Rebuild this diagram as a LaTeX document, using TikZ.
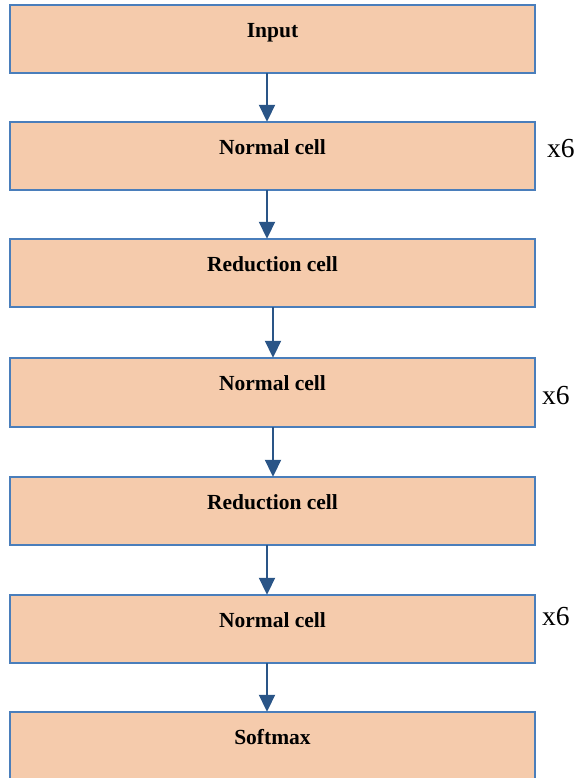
\documentclass[tikz,border=0pt]{standalone}
\usepackage{fontspec}
\setmainfont{Liberation Serif}
\usetikzlibrary{arrows.meta}
\definecolor{cellfill}{HTML}{F5CBAC}
\definecolor{cellline}{HTML}{4A7EBB}
\definecolor{arrowcol}{HTML}{2A5587}
\tikzset{
  cell/.style={draw=cellline, line width=2.6pt, fill=cellfill, inner sep=0pt},
  celltext/.style={anchor=base, inner sep=0pt, font=\fontsize{21.5}{24}\selectfont\bfseries},
  repeatnote/.style={anchor=base west, inner sep=0pt, font=\fontsize{27.5}{30}\selectfont},
  flow/.style={draw=arrowcol, line width=1.9pt, -{Triangle[width=16pt,length=17pt]}}
}
% one helper: box from image-style top to bottom, with its caption
\newcommand{\cellbox}[4]{%
  \path[cell] (10,#2) rectangle (535,#3);
  \node[inner sep=0pt, minimum width=525pt, minimum height={#3-#2}] (#1) at (272.5,{(#2+#3)/2}) {};
  \node[celltext] (#1t) at ([yshift=-33pt]#1.north) {#4};
}
\begin{document}
\begin{tikzpicture}[x=1pt, y=-1pt]
  \useasboundingbox (0,0) rectangle (581,778);
  \clip (0,0) rectangle (581,778);
  \cellbox{input}{5}{73}{Input}
  \cellbox{normA}{122}{190}{Normal cell}
  \cellbox{redA}{239}{307}{Reduction cell}
  \cellbox{normB}{358}{427}{Normal cell}
  \cellbox{redB}{477}{545}{Reduction cell}
  \cellbox{normC}{595}{663}{Normal cell}
  \cellbox{soft}{712}{800}{Softmax}

  \draw[flow] ([xshift=-5.5pt]input.south) -- ([xshift=-5.5pt]normA.north);
  \draw[flow] ([xshift=-5.5pt]normA.south) -- ([xshift=-5.5pt]redA.north);
  \draw[flow] ([xshift=0.5pt]redA.south) -- ([xshift=0.5pt]normB.north);
  \draw[flow] ([xshift=0.5pt]normB.south) -- ([xshift=0.5pt]redB.north);
  \draw[flow] ([xshift=-5.5pt]redB.south) -- ([xshift=-5.5pt]normC.north);
  \draw[flow] ([xshift=-5.5pt]normC.south) -- ([xshift=-5.5pt]soft.north);

  \node[repeatnote] (repA) at (547,158) {x6};
  \node[repeatnote] (repB) at (542,404) {x6};
  \node[repeatnote] (repC) at (542,625) {x6};
\end{tikzpicture}
\end{document}
